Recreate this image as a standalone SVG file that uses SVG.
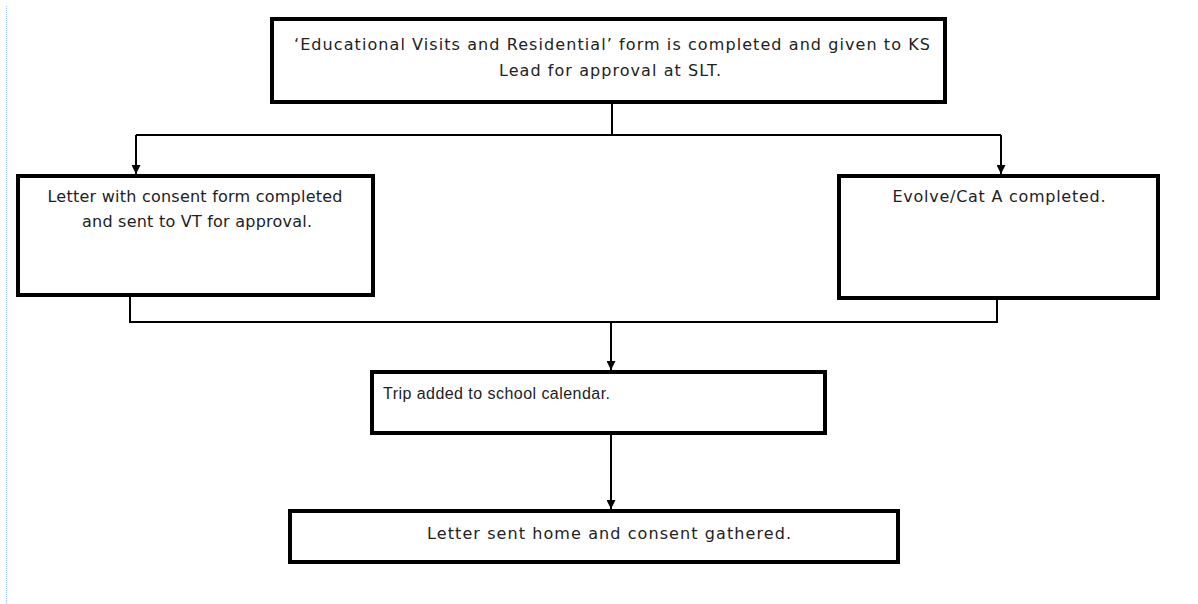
<svg xmlns="http://www.w3.org/2000/svg" width="1198" height="604" viewBox="0 0 1198 604">
<defs>
<marker id="arr" viewBox="0 0 10 10" refX="10" refY="5" markerWidth="9" markerHeight="9" orient="auto" markerUnits="userSpaceOnUse">
<path d="M0,0 L10,5 L0,10 z" fill="#000"/>
</marker>
<style>
.box{fill:#fff;stroke:#000;stroke-width:4}
.t{font-family:"DejaVu Sans","Liberation Sans",sans-serif;font-size:16px;fill:#222;text-anchor:middle}
.c{fill:none;stroke:#000;stroke-width:2}
</style>
</defs>
<rect width="1198" height="604" fill="#fff"/>
<line x1="6.5" y1="6" x2="6.5" y2="604" stroke="#9cc3f0" stroke-width="1" stroke-dasharray="1,1"/>
<g id="connectors">
<path class="c" d="M612,102 V135"/>
<path class="c" d="M136,135 H1001"/>
<path class="c" d="M136,135 V174" marker-end="url(#arr)"/>
<path class="c" d="M1001,135 V174" marker-end="url(#arr)"/>
<path class="c" d="M130,295 V322 H997 V298"/>
<path class="c" d="M611,322 V370" marker-end="url(#arr)"/>
<path class="c" d="M611,433 V509" marker-end="url(#arr)"/>
</g>
<g id="n1">
<rect class="box" x="272" y="19" width="673" height="83"/>
<text class="t" x="612" y="50" textLength="636" lengthAdjust="spacing">‘Educational Visits and Residential’ form is completed and given to KS</text>
<text class="t" x="610" y="76" textLength="222" lengthAdjust="spacing">Lead for approval at SLT.</text>
</g>
<g id="n2">
<rect class="box" x="18" y="176" width="355" height="119"/>
<text class="t" x="195" y="202" textLength="295" lengthAdjust="spacing">Letter with consent form completed</text>
<text class="t" x="197" y="227" textLength="230" lengthAdjust="spacing">and sent to VT for approval.</text>
</g>
<g id="n3">
<rect class="box" x="839" y="176" width="319" height="122"/>
<text class="t" x="999" y="202" textLength="213" lengthAdjust="spacing">Evolve/Cat A completed.</text>
</g>
<g id="n4">
<rect class="box" x="372" y="372" width="453" height="61"/>
<text x="383" y="399" font-family="'Liberation Sans',Arial,sans-serif" font-size="16" fill="#222" textLength="227" lengthAdjust="spacing">Trip added to school calendar.</text>
</g>
<g id="n5">
<rect class="box" x="290" y="511" width="608" height="51"/>
<text class="t" x="609" y="539" textLength="364" lengthAdjust="spacing">Letter sent home and consent gathered.</text>
</g>
</svg>
